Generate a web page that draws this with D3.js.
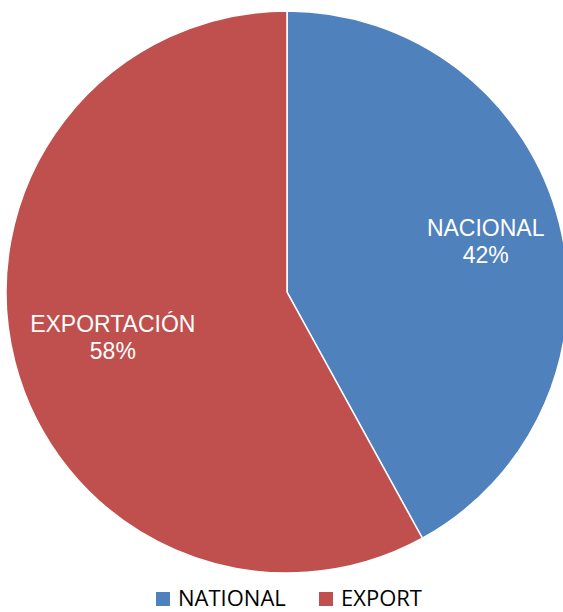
<!DOCTYPE html>
<html>
<head>
<meta charset="utf-8">
<script src="https://cdn.jsdelivr.net/npm/d3@7"></script>
<style>
body{margin:0;background:#fff;}
</style>
</head>
<body>
<div id="chart"></div>
<script>
var categories = ["NACIONAL", "EXPORTACIÓN"];
var legendNames = ["NATIONAL", "EXPORT"];
var values = [42, 58];
var colors = ["#4F81BD", "#C0504D"];

var width = 563, height = 612;
var cx = 287, cy = 292, r = 281;

var svg = d3.select("#chart").append("svg")
    .attr("width", width)
    .attr("height", height);

var data = categories.map(function(c, i){ return {name:c, value:values[i], color:colors[i]}; });

var pie = d3.pie().sort(null).value(function(d){ return d.value; });
var arc = d3.arc().innerRadius(0).outerRadius(r);

var g = svg.append("g").attr("transform", "translate(" + cx + "," + cy + ")");

g.selectAll(".slice")
    .data(pie(data))
    .enter()
    .append("path")
    .attr("class", "slice")
    .attr("d", arc)
    .attr("fill", function(d){ return d.data.color; })
    .attr("stroke", "#fff")
    .attr("stroke-width", 1.5);

// labels, excel puts them at slightly different radii
var labelR = [0.73, 0.64];
var lab = g.selectAll(".lab")
    .data(pie(data))
    .enter()
    .append("text")
    .attr("class", "lab")
    .attr("transform", function(d, i){
        var c = d3.arc().innerRadius(r * labelR[i]).outerRadius(r * labelR[i]).centroid(d);
        return "translate(" + c[0] + "," + c[1] + ")";
    })
    .attr("text-anchor", "middle")
    .attr("fill", "#fff")
    .style("font-family", "Liberation Sans, Arial, sans-serif")
    .style("font-size", "23px");
lab.append("tspan").attr("x", 0).attr("dy", "-0.22em").text(function(d){ return d.data.name; });
lab.append("tspan").attr("x", 0).attr("dy", "1.17em").text(function(d){ return d.data.value + "%"; });

// legend
var legend = svg.append("g").attr("transform", "translate(0,598)");
var lx = [156, 319];
legendNames.forEach(function(n, i){
    legend.append("rect")
        .attr("x", lx[i]).attr("y", -6)
        .attr("width", 14).attr("height", 14)
        .attr("fill", colors[i]);
    legend.append("text")
        .attr("x", lx[i] + 22).attr("y", 8)
        .attr("fill", "#000")
        .style("font-family", "Open Sans, sans-serif")
        .style("font-size", "22px")
        .text(n);
});
</script>
</body>
</html>
